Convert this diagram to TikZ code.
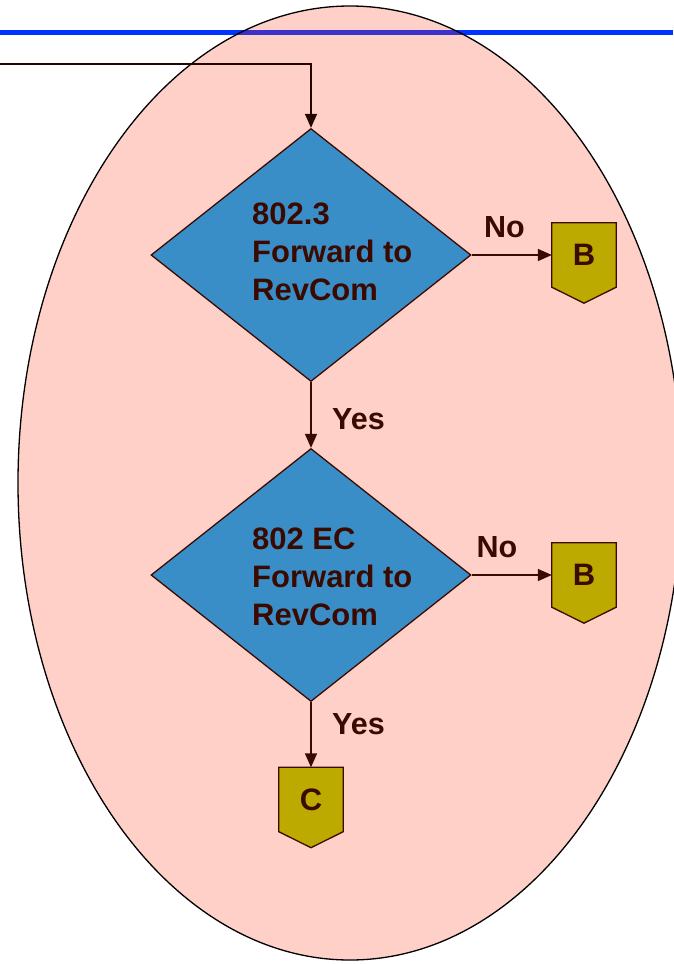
\documentclass[tikz,border=0pt]{standalone}
\usepackage{fontspec}
\setmainfont{Liberation Sans}
\usetikzlibrary{shapes.geometric,arrows.meta,calc}
\definecolor{pinkfill}{HTML}{FFD0C8}
\definecolor{dblue}{HTML}{3A8EC8}
\definecolor{olive}{HTML}{BCAA00}
\definecolor{brown}{HTML}{3A0A00}
\definecolor{topblue}{HTML}{0033FF}
\definecolor{purpleline}{HTML}{3C32C8}
\tikzset{
  decision/.style={shape=diamond, draw=brown, line width=1.3pt, fill=dblue, inner sep=0pt,
    minimum width=320pt, minimum height=253pt},
  dtext/.style={anchor=north west, inner sep=0pt, align=left, text=brown,
    font=\bfseries\fontsize{31}{38}\selectfont},
  lbl/.style={anchor=base west, inner sep=0pt, text=brown, font=\bfseries\fontsize{30.5}{36}\selectfont},
  offpage/.style={shape=rectangle, inner sep=0pt, minimum width=64pt, minimum height=64pt,
    text=brown, font=\bfseries\fontsize{31}{36}\selectfont},
  offshape/.style={draw=brown, line width=1.3pt, fill=olive},
  flow/.style={draw=brown, line width=1.5pt, -{Triangle[length=14pt,width=12pt]}},
}
\begin{document}
\begin{tikzpicture}[x=1pt,y=-1pt]
\useasboundingbox (0,0) rectangle (673,964);
% ellipse
\fill[pinkfill] (350,483) ellipse [x radius=332, y radius=477];
\draw[topblue, line width=5pt] (0,32) -- (673,32);
\begin{scope}
  \clip (350,483) ellipse [x radius=332, y radius=477];
  \draw[purpleline, line width=5pt] (0,32) -- (673,32);
\end{scope}
\draw[black, line width=1.3pt] (350,483) ellipse [x radius=332, y radius=477];
% decisions
\node[decision] (d1) at (311,255) {};
\node[dtext] (d1t) at (252,203) {802.3\\Forward to\\RevCom};
\node[decision] (d2) at (311,575) {};
\node[dtext] (d2t) at (252,527.8) {802 EC\\Forward to\\RevCom};
% off-page connectors
\node[offpage] (b1) at (584,255) {};
\node[offpage] (b2) at (584,575) {};
\node[offpage] (c1) at (311,799.5) {};
\foreach \n in {b1,b2,c1}{
  \draw[offshape]
    (\n.north west) -- (\n.north east) -- (\n.south east) -- ($(\n.south)+(0,16)$) -- (\n.south west) -- cycle;
}
\node[offpage] (b1t) at (b1) {B};
\node[offpage] (b2t) at (b2) {B};
\node[offpage] (c1t) at (c1) {C};
% entry line
\coordinate (entry) at (0,64);
\draw[flow, draw=brown!60!black] (entry) -| (d1.north);
% connectors
\draw[flow] (d1.east) -- (b1.west);
\draw[flow] (d1.south) -- (d2.north);
\draw[flow] (d2.east) -- (b2.west);
\draw[flow] (d2.south) -- (c1.north);
% labels
\node[lbl] (no1) at (484,237.5) {No};
\node[lbl] (no2) at (476.5,557.5) {No};
\node[lbl] (yes1) at (332,429.5) {Yes};
\node[lbl] (yes2) at (332,734.5) {Yes};
\end{tikzpicture}
\end{document}
